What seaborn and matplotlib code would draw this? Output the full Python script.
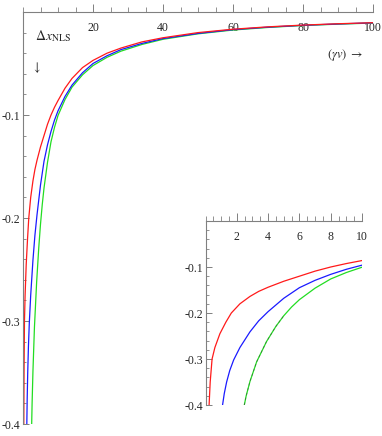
import matplotlib
matplotlib.use("Agg")
import matplotlib.pyplot as plt
import numpy as np
import seaborn as sns
from matplotlib.ticker import MultipleLocator, FixedLocator

# data (x = gamma*v, y = delta x_NLS)
x_red = [0.23, 0.3, 0.42, 0.6, 0.92, 1.3, 1.65, 2.2, 2.84, 3.4, 4, 5, 6, 7, 8, 9, 10, 12, 14, 17, 20,
         24, 28, 34, 40, 50, 60, 70, 80, 90, 100]
red = [-0.40, -0.35, -0.30, -0.275, -0.245, -0.22, -0.20, -0.18, -0.164, -0.153, -0.144, -0.131, -0.12,
       -0.109, -0.100, -0.0925, -0.086, -0.074, -0.0645, -0.054, -0.047, -0.040, -0.035, -0.029, -0.025,
       -0.020, -0.0167, -0.0144, -0.0127, -0.0114, -0.0104]

x_blue = [1.09, 1.2, 1.35, 1.55, 1.8, 2.2, 2.84, 3.4, 4, 5, 6, 7, 8, 9, 10, 12, 14, 17, 20,
          24, 28, 34, 40, 50, 60, 70, 80, 90, 100]
blue = [-0.40, -0.375, -0.35, -0.325, -0.302, -0.275, -0.241, -0.217, -0.197, -0.168, -0.145, -0.129,
        -0.116, -0.105, -0.096, -0.082, -0.071, -0.059, -0.050, -0.0425, -0.0365, -0.0305, -0.0258,
        -0.0208, -0.0171, -0.0147, -0.0129, -0.0116, -0.0105]

x_green = [2.48, 2.6, 2.84, 3.27, 3.9, 4.5, 5, 5.5, 6, 7, 8, 9, 10, 12, 14, 17, 20,
           24, 28, 34, 40, 50, 60, 70, 80, 90, 100]
green = [-0.40, -0.38, -0.349, -0.306, -0.262, -0.229, -0.206, -0.187, -0.171, -0.146, -0.126, -0.112,
         -0.1005, -0.085, -0.073, -0.061, -0.052, -0.044, -0.038, -0.0315, -0.0265, -0.0212, -0.0175,
         -0.015, -0.0131, -0.0118, -0.0107]

main_xticks = [20, 40, 60, 80, 100]
main_yticks = [-0.1, -0.2, -0.3, -0.4]
inset_xticks = [2, 4, 6, 8, 10]
inset_yticks = [-0.1, -0.2, -0.3, -0.4]

sns.set_style("white")
plt.rcParams['font.family'] = ['Liberation Serif', 'DejaVu Serif']
plt.rcParams['mathtext.fontset'] = 'stix'

RED = '#ff1a1a'
BLUE = '#1a1aff'
GREEN = '#22dd22'
AXC = '#808080'
LW = 0.9

fig = plt.figure(figsize=(3.82, 4.36), dpi=100)


def style_axes(ax, xmaj, ymaj, xmin_step, ymin_step, xlabels, ylabels):
    ax.set_facecolor('none')
    for s in ['top', 'right']:
        ax.spines[s].set_visible(False)
    ax.spines['bottom'].set_position(('data', 0))
    ax.spines['bottom'].set_color(AXC)
    ax.spines['left'].set_color(AXC)
    ax.spines['bottom'].set_linewidth(0.8)
    ax.spines['left'].set_linewidth(0.8)
    ax.xaxis.set_major_locator(FixedLocator(xmaj))
    ax.yaxis.set_major_locator(FixedLocator(ymaj))
    ax.xaxis.set_minor_locator(MultipleLocator(xmin_step))
    ax.yaxis.set_minor_locator(MultipleLocator(ymin_step))
    ax.set_xticklabels(xlabels)
    ax.set_yticklabels(ylabels)
    ax.tick_params(axis='x', which='major', direction='in', length=6, width=0.7, color=AXC,
                   pad=7, labelsize=8.5, bottom=True, top=False)
    ax.tick_params(axis='x', which='minor', direction='in', length=3.5, width=0.6, color=AXC,
                   bottom=True, top=False)
    ax.tick_params(axis='y', which='major', direction='in', length=4, width=0.7, color=AXC,
                   pad=2, labelsize=8.5, left=True, right=False)
    ax.tick_params(axis='y', which='minor', direction='in', length=2.2, width=0.6, color=AXC,
                   left=True, right=False)
    ax.set_xlabel('')
    ax.set_ylabel('')


# MAIN PLOT
ax = fig.add_axes([23 / 382, 1 - 424 / 436, 350 / 382, 412 / 436])
sns.lineplot(x=x_green, y=green, ax=ax, color=GREEN, lw=LW)
sns.lineplot(x=x_blue, y=blue, ax=ax, color=BLUE, lw=LW)
sns.lineplot(x=x_red, y=red, ax=ax, color=RED, lw=LW)
ax.set_xlim(0, 100)
ax.set_ylim(-0.4, 0)
style_axes(ax, main_xticks, main_yticks, 5, 0.02,
           [str(v) for v in main_xticks], ['-' + f'{-v:.1f}' for v in main_yticks])

ax.text(3.4, -0.023, r'$\Delta x_{\mathrm{NLS}}$', fontsize=10, va='center', ha='left')
ax.text(4.0, -0.054, r'$\downarrow$', fontsize=9, va='center', ha='center')
ax.text(92, -0.042, r'$(\gamma v)\ \rightarrow$', fontsize=9, va='center', ha='center')

# INSET
ax_in = fig.add_axes([205.5 / 382, 1 - 405 / 436, 156.5 / 382, 184 / 436])
sns.lineplot(x=x_red, y=red, ax=ax_in, color=RED, lw=LW)
sns.lineplot(x=x_blue, y=blue, ax=ax_in, color=BLUE, lw=LW)
sns.lineplot(x=x_green, y=green, ax=ax_in, color=GREEN, lw=LW)
ax_in.plot(x_green[:7], green[:7], color='#444444', lw=0.6, ls=(0, (3, 3)), alpha=0.6)
ax_in.set_xlim(0, 10)
ax_in.set_ylim(-0.4, 0)
style_axes(ax_in, inset_xticks, inset_yticks, 0.5, 0.02,
           [str(v) for v in inset_xticks], ['-' + f'{-v:.1f}' for v in inset_yticks])

fig.savefig('out.png', dpi=100)
